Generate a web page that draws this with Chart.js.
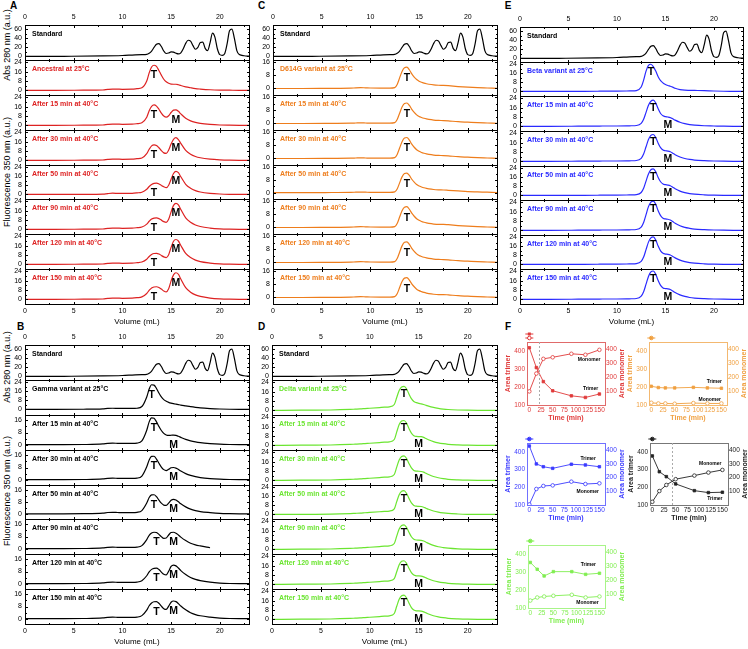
<!DOCTYPE html>
<html>
<head>
<meta charset="utf-8">
<title>SEC profiles of spike variants</title>
<script src="https://cdn.jsdelivr.net/npm/chart.js@4.4.1/dist/chart.umd.min.js"></script>
<style>
  body { margin: 0; background: #fff; font-family: "Liberation Sans", Arial, sans-serif; }
  #page { position: relative; width: 748px; height: 649px; overflow: hidden; }
  canvas { position: absolute; }
  .letter { position: absolute; font-weight: bold; font-size: 10px; transform: translate(-50%, -50%); }
  .ytitle { position: absolute; font-size: 9px; white-space: nowrap; transform: translate(-50%, -50%) rotate(-90deg); }
</style>
</head>
<body>
<div id="page">
  <div class="letter" style="left:13.5px;top:5px">A</div>
  <div class="letter" style="left:20.5px;top:326px">B</div>
  <div class="letter" style="left:261.5px;top:5px">C</div>
  <div class="letter" style="left:261.5px;top:326px">D</div>
  <div class="letter" style="left:508px;top:5px">E</div>
  <div class="letter" style="left:508px;top:326px">F</div>
  <div class="ytitle" style="left:7px;top:45px">Abs 280 nm (a.u.)</div>
  <div class="ytitle" style="left:7px;top:172px">Fluorescence 350 nm (a.u.)</div>
  <div class="ytitle" style="left:7px;top:367px">Abs 280 nm (a.u.)</div>
  <div class="ytitle" style="left:7px;top:491px">Fluorescence 350 nm (a.u.)</div>
</div>
<script>
// elution volume (mL) sampled for the fluorescence traces
const volume = [0, 3, 6, 8, 8.5, 9, 9.5, 10, 11, 11.5, 12, 12.5, 12.75, 13, 13.25, 13.5, 13.75, 14, 14.25, 14.5, 14.75, 15, 15.25, 15.5, 15.75, 16, 16.5, 17, 17.5, 18, 19, 20, 21, 22, 23];

// molecular weight standard (Abs 280)
const standardVolume = [0, 4, 8, 10, 11, 12, 12.5, 12.75, 13, 13.25, 13.5, 13.75, 14, 14.25, 14.5, 14.75, 15, 15.25, 15.5, 15.75, 16, 16.25, 16.5, 16.75, 17, 17.25, 17.5, 17.75, 18, 18.25, 18.5, 18.75, 19, 19.25, 19.5, 19.75, 20, 20.25, 20.5, 20.75, 21, 21.25, 21.5, 21.75, 22, 22.5, 23];
const standardAbs = [0, 0.3, 1, 2, 3, 4, 4.5, 7, 12, 20, 27, 28.5, 22, 12, 6.5, 7.5, 10, 9.5, 7, 5.5, 8, 17, 29, 36, 34, 24, 16, 20, 31, 32, 18, 13, 30, 52, 43, 17, 4, 2.5, 6, 28, 57, 61, 40, 13, 4, 1.5, 0.5];

const heatLabels = ['After 15 min at 40°C', 'After 30 min at 40°C', 'After 50 min at 40°C', 'After 90 min at 40°C', 'After 120 min at 40°C', 'After 150 min at 40°C'];

const ancestralTraces = [
  [0, 0, 0.1, 0.3, 0.8, 1.1, 1, 0.9, 1, 1.4, 2.2, 8, 15, 20, 21.5, 20.5, 17, 13, 9.5, 7.3, 6, 5.3, 5.2, 5.2, 4.8, 4.1, 3, 2.2, 1.5, 1.1, 0.5, 0.2, 0.1, 0, 0],
  [0, 0, 0.1, 0.3, 0.8, 1.1, 1, 0.9, 1, 1.4, 2.2, 7, 12.5, 16.3, 17.5, 16.5, 13.8, 10.5, 8, 7, 8.2, 11, 13, 13.3, 12, 9.8, 6, 3.8, 2.5, 1.7, 0.8, 0.3, 0.1, 0, 0],
  [0, 0, 0.1, 0.3, 0.8, 1.1, 1, 0.9, 1, 1.4, 2, 5.8, 9.5, 12.4, 13.3, 12.7, 10.8, 8.3, 6.4, 6, 8.8, 14, 18, 19.4, 17.8, 14.5, 8.5, 5.2, 3.3, 2.2, 1, 0.4, 0.1, 0, 0],
  [0, 0, 0.1, 0.3, 0.8, 1.1, 1, 0.9, 1, 1.4, 2, 4.6, 7, 8.9, 9.8, 10, 9.3, 8, 6.8, 6, 8.2, 13.5, 18.5, 20.4, 19.2, 15.6, 9, 5.5, 3.4, 2.2, 1, 0.4, 0.1, 0, 0],
  [0, 0, 0.1, 0.3, 0.8, 1.1, 1, 0.9, 1, 1.4, 2, 4.5, 6.9, 8.8, 9.6, 9.8, 9.2, 7.9, 6.6, 6, 8.6, 15, 20.5, 22.3, 21, 17, 9.8, 6, 3.7, 2.4, 1.1, 0.4, 0.1, 0, 0],
  [0, 0, 0.1, 0.3, 0.8, 1.1, 1, 0.9, 1, 1.4, 2, 4.4, 6.7, 8.5, 9.3, 9.4, 8.9, 7.6, 6.4, 5.8, 8.3, 14.5, 19.8, 21.3, 20, 16.2, 9.4, 5.8, 3.6, 2.3, 1.1, 0.4, 0.1, 0, 0],
  [0, 0, 0.1, 0.3, 0.8, 1.1, 1, 0.9, 1, 1.4, 2.1, 5, 7.7, 9.8, 10.6, 10.8, 10.2, 8.8, 7.2, 6.4, 9, 15.8, 21, 22.8, 21.5, 17.4, 10, 6.1, 3.8, 2.5, 1.1, 0.4, 0.1, 0, 0]
];

const gammaTraces = [
  [0, 0, 0.1, 0.5, 0.9, 1, 0.9, 0.8, 0.8, 1, 2.5, 11, 18, 21.8, 21.5, 18.5, 14.5, 11, 8.6, 7.2, 6.2, 5.5, 5, 4.6, 4.2, 3.8, 3.1, 2.4, 1.8, 1.3, 0.7, 0.3, 0.1, 0, 0],
  [0, 0, 0.1, 0.5, 0.9, 1, 0.9, 0.8, 0.8, 1, 2.5, 9.5, 15, 17.6, 17.3, 15, 12, 9.3, 7.4, 6.4, 6.1, 6.2, 6.3, 6.1, 5.5, 4.8, 3.5, 2.5, 1.8, 1.3, 0.7, 0.3, 0.1, 0, 0],
  [0, 0, 0.1, 0.5, 0.9, 1, 0.9, 0.8, 0.8, 1, 2.4, 8.5, 13, 15.3, 15.4, 13.5, 10.8, 8.3, 6.6, 6, 6.8, 7.8, 8, 7.6, 6.7, 5.7, 4, 2.8, 2, 1.4, 0.7, 0.3, 0.1, 0, 0],
  [0, 0, 0.1, 0.5, 0.9, 1, 0.9, 0.8, 0.8, 1, 2.2, 7.3, 11, 12.8, 12.9, 11.6, 9.3, 7.2, 5.9, 5.7, 7.2, 9.2, 9.8, 9.3, 8.1, 6.8, 4.7, 3.2, 2.2, 1.5, 0.8, 0.3, 0.1, 0, 0],
  [0, 0, 0.1, 0.5, 0.9, 1, 0.9, 0.8, 0.8, 1, 2, 6, 8.8, 10.3, 10.8, 10.6, 9.4, 7.9, 6.8, 7, 9, 10.6, 10.8, 10.2, 9, 7.6, 5.3, 3.6, 2.5, 1.8, 0.6, null, null, null, null],
  [0, 0, 0.1, 0.5, 0.9, 1, 0.9, 0.8, 0.8, 1, 2, 5.2, 7.8, 9.4, 10.1, 10.2, 9.3, 7.6, 6.2, 5.8, 8.2, 11.3, 12.2, 11.7, 10.3, 8.6, 6, 4, 2.8, 2, 1, 0.4, 0.1, 0, 0],
  [0, 0, 0.1, 0.5, 0.9, 1, 0.9, 0.8, 0.8, 1, 2, 5.6, 8.5, 10.3, 11.1, 11.2, 10.1, 8.2, 6.6, 6.1, 8.2, 10.8, 11.6, 11.2, 9.9, 8.3, 5.8, 3.9, 2.7, 1.9, 1, 0.4, 0.1, 0, 0]
];

const d614gTraces = [
  [0, 0, 0.1, 0.2, 0.4, 0.5, 0.4, 0.3, 0.2, 0.2, 0.2, 0.5, 2.5, 6.5, 10.5, 12.8, 13.1, 11.5, 9, 7, 5.5, 4.5, 3.8, 3.3, 2.9, 2.6, 2.2, 2, 1.9, 1.7, 1.2, 0.8, 0.5, 0.3, 0.1],
  [0, 0, 0.1, 0.2, 0.3, 0.4, 0.3, 0.2, 0.2, 0.2, 0.2, 0.5, 2.4, 6.3, 10.1, 12.3, 12.6, 11.1, 8.7, 6.8, 5.3, 4.3, 3.7, 3.2, 2.8, 2.5, 2.1, 1.9, 1.8, 1.6, 1.1, 0.8, 0.5, 0.3, 0.1],
  [0, 0, 0.1, 0.2, 0.3, 0.4, 0.3, 0.2, 0.2, 0.2, 0.2, 0.5, 2.5, 6.4, 10.3, 12.6, 12.9, 11.3, 8.8, 6.9, 5.4, 4.4, 3.7, 3.2, 2.8, 2.5, 2.1, 1.9, 1.8, 1.6, 1.1, 0.8, 0.5, 0.3, 0.1],
  [0, 0, 0.1, 0.2, 0.3, 0.4, 0.3, 0.2, 0.2, 0.2, 0.2, 0.5, 2.3, 6.2, 10, 12.1, 12.4, 10.9, 8.5, 6.7, 5.2, 4.2, 3.6, 3.1, 2.7, 2.4, 2, 1.8, 1.7, 1.5, 1.1, 0.7, 0.5, 0.3, 0.1],
  [0, 0, 0.1, 0.2, 0.4, 0.5, 0.4, 0.3, 0.2, 0.2, 0.2, 0.5, 2.4, 6.4, 10.3, 12.5, 12.8, 11.2, 8.8, 6.9, 5.4, 4.4, 3.7, 3.2, 2.8, 2.5, 2.1, 1.9, 1.9, 1.7, 1.2, 0.8, 0.5, 0.3, 0.1],
  [0, 0, 0.1, 0.2, 0.4, 0.5, 0.4, 0.3, 0.2, 0.2, 0.2, 0.5, 2.4, 6.3, 10.2, 12.4, 12.7, 11.1, 8.7, 6.8, 5.3, 4.3, 3.7, 3.2, 2.8, 2.5, 2.1, 1.9, 1.8, 1.6, 1.1, 0.8, 0.5, 0.3, 0.1],
  [0, 0, 0.1, 0.2, 0.4, 0.5, 0.4, 0.3, 0.2, 0.2, 0.2, 0.5, 2.3, 6.1, 9.8, 11.9, 12.2, 10.7, 8.4, 6.6, 5.1, 4.2, 3.6, 3.1, 2.7, 2.4, 2, 1.8, 1.8, 1.6, 1.1, 0.8, 0.5, 0.3, 0.1]
];

const deltaTraces = [
  [0, 0.1, 0.3, 0.8, 1, 1.2, 1.5, 1.8, 2.4, 2.7, 3, 5, 11, 17, 20, 20.5, 18.5, 14, 10, 7.6, 6.6, 6, 5.6, 5, 4.3, 3.6, 2.5, 1.7, 1.1, 0.7, 0.3, 0.1, 0, 0, 0],
  [0, 0.1, 0.3, 0.8, 1, 1.2, 1.5, 1.8, 2.4, 2.7, 3, 5, 11.5, 17.8, 20.8, 21.3, 19, 14.5, 10.5, 8.3, 7.6, 7.5, 7.4, 6.8, 5.8, 4.8, 3.2, 2.1, 1.4, 0.9, 0.4, 0.1, 0, 0, 0],
  [0, 0.1, 0.3, 0.8, 1, 1.2, 1.5, 1.8, 2.4, 2.7, 3, 5, 11.3, 17.5, 20.5, 21, 18.8, 14.5, 10.6, 8.5, 7.9, 7.8, 7.6, 7, 6, 5, 3.3, 2.2, 1.4, 0.9, 0.4, 0.1, 0, 0, 0],
  [0, 0.1, 0.3, 0.8, 1, 1.2, 1.5, 1.8, 2.4, 2.7, 3, 5, 11.3, 17.5, 20.5, 21, 18.6, 14.2, 10.2, 8, 7.3, 7.2, 7, 6.4, 5.5, 4.6, 3.1, 2.1, 1.4, 0.9, 0.4, 0.1, 0, 0, 0],
  [0, 0.1, 0.3, 0.8, 1, 1.2, 1.5, 1.8, 2.4, 2.7, 3, 5, 11.3, 17.5, 20.5, 21, 18.8, 14.6, 10.8, 8.7, 8, 7.9, 7.7, 7.1, 6.1, 5.1, 3.4, 2.2, 1.5, 1, 0.4, 0.1, 0, 0, 0],
  [0, 0.1, 0.3, 0.8, 1, 1.2, 1.5, 1.8, 2.4, 2.7, 3, 4.9, 10.8, 16.8, 19.7, 20.2, 18, 13.8, 10, 7.9, 7.3, 7.2, 7, 6.4, 5.5, 4.6, 3.1, 2.1, 1.4, 0.9, 0.4, 0.1, 0, 0, 0],
  [0, 0.1, 0.3, 0.8, 1, 1.2, 1.5, 1.8, 2.4, 2.7, 3, 5, 11.2, 17.3, 20.3, 20.8, 18.4, 14, 10.1, 8, 7.3, 7.2, 7, 6.4, 5.5, 4.6, 3.1, 2.1, 1.4, 0.9, 0.4, 0.1, 0, 0, 0]
];

const betaTraces = [
  [0, 0, 0.1, 0.2, 0.3, 0.3, 0.3, 0.3, 0.4, 0.5, 0.8, 4, 10, 18, 23, 24, 22, 18, 13, 9.5, 7.5, 6.2, 5.3, 4.6, 3.8, 2.8, 1.6, 1.1, 1, 0.9, 0.7, 0.4, 0.2, 0.1, 0],
  [0, 0, 0.1, 0.2, 0.3, 0.3, 0.3, 0.3, 0.4, 0.5, 0.7, 2.5, 6, 12, 18, 21.5, 22.4, 20, 15, 11, 9, 8.3, 8, 7.5, 6.5, 5.3, 3.5, 2.3, 1.5, 1, 0.5, 0.3, 0.1, 0, 0],
  [0, 0, 0.1, 0.2, 0.3, 0.3, 0.3, 0.3, 0.4, 0.5, 0.7, 2.6, 6.2, 12.5, 18.7, 22.3, 23, 20.5, 15.5, 11.7, 9.7, 9.1, 8.8, 8.2, 7, 5.7, 3.7, 2.4, 1.6, 1.1, 0.6, 0.3, 0.1, 0, 0],
  [0, 0, 0.1, 0.2, 0.3, 0.3, 0.3, 0.3, 0.4, 0.5, 0.7, 2.6, 6.3, 12.7, 19, 22.7, 23.4, 20.9, 15.9, 12.1, 10.1, 9.5, 9.2, 8.6, 7.3, 5.9, 3.8, 2.5, 1.6, 1.1, 0.6, 0.3, 0.1, 0, 0],
  [0, 0, 0.1, 0.2, 0.3, 0.3, 0.3, 0.3, 0.4, 0.5, 0.7, 2.8, 6.7, 13.5, 20.3, 24.2, 25, 22.3, 16.8, 12.6, 10.4, 9.8, 9.5, 8.8, 7.5, 6, 3.9, 2.5, 1.7, 1.1, 0.6, 0.3, 0.1, 0, 0],
  [0, 0, 0.1, 0.2, 0.3, 0.3, 0.3, 0.3, 0.4, 0.5, 0.7, 2.7, 6.5, 13.1, 19.7, 23.5, 24.3, 21.6, 16.2, 12, 9.8, 9.2, 8.9, 8.3, 7.1, 5.8, 3.8, 2.5, 1.6, 1.1, 0.6, 0.3, 0.1, 0, 0],
  [0, 0, 0.1, 0.2, 0.3, 0.3, 0.3, 0.3, 0.4, 0.5, 0.7, 2.7, 6.5, 13, 19.6, 23.5, 24.3, 21.5, 16.1, 11.9, 9.8, 9.2, 9, 8.4, 7.2, 5.8, 3.8, 2.5, 1.6, 1.1, 0.6, 0.3, 0.1, 0, 0]
];

// panel F: peak areas versus incubation time
const timeMin = [0, 15, 30, 50, 90, 120, 150];
const ancestralTrimer = [418, 308, 230, 179, 151, 142, 161];
const ancestralMonomer = [98, 225, 330, 341, 366, 359, 394];
const d614gTrimer = [204, 197, 195, 195, 198, 195, 193];
const d614gMonomer = [17, 12, 12, 10, 15, 12, 12];
const betaTrimer = [433, 332, 316, 307, 330, 326, 316];
const betaMonomer = [5, 117, 139, 143, 170, 153, 158];
const gammaTrimer = [377, 288, 260, 219, 181, 170, 172];
const gammaMonomer = [24, 102, 146, 188, 214, 236, 255];
const deltaTrimer = [353, 315, 278, 302, 302, 287, 293];
const deltaMonomer = [54, 76, 83, 88, 95, 76, 83];

Chart.defaults.font.family = '"Liberation Sans", Arial, sans-serif';
Chart.defaults.color = '#000';

const page = document.getElementById('page');

function addCanvas(left, top, w, h) {
  const c = document.createElement('canvas');
  c.width = w;
  c.height = h;
  c.style.left = left + 'px';
  c.style.top = top + 'px';
  c.style.width = w + 'px';
  c.style.height = h + 'px';
  page.appendChild(c);
  return c;
}

// box around each plot plus small inward ticks
const framePlugin = {
  id: 'frame',
  afterDatasetsDraw(chart, args, o) {
    const {ctx, chartArea: a, scales} = chart;
    ctx.save();
    ctx.strokeStyle = o.color || '#000';
    ctx.lineWidth = 1;
    ctx.strokeRect(a.left + 0.5, a.top + 0.5, a.right - a.left, a.bottom - a.top);
    if (o.innerTicks) {
      ctx.beginPath();
      const xs = scales.x;
      for (let v = 0; v <= xs.max; v += 2.5) {
        const px = Math.round(xs.getPixelForValue(v)) + 0.5;
        const len = v % 5 === 0 ? 3 : 2;
        ctx.moveTo(px, a.top); ctx.lineTo(px, a.top + len);
        ctx.moveTo(px, a.bottom + 1); ctx.lineTo(px, a.bottom + 1 - len);
      }
      const ys = scales.y;
      const step = o.yStep;
      for (let v = 0; v <= ys.max; v += step / 2) {
        const py = Math.round(ys.getPixelForValue(v)) + 0.5;
        const len = (v / step) % 1 === 0 ? 3 : 2;
        ctx.moveTo(a.left, py); ctx.lineTo(a.left + len, py);
        ctx.moveTo(a.right + 1, py); ctx.lineTo(a.right + 1 - len, py);
      }
      ctx.stroke();
    }
    ctx.restore();
  }
};

// sample name and T / M peak labels
const notePlugin = {
  id: 'notes',
  afterDatasetsDraw(chart, args, o) {
    const {ctx, chartArea: a} = chart;
    ctx.save();
    ctx.textBaseline = 'middle';
    if (o.name) {
      ctx.font = 'bold 7px "Liberation Sans", Arial, sans-serif';
      ctx.fillStyle = o.nameColor;
      ctx.textAlign = 'left';
      ctx.fillText(o.name, a.left + 7, a.top + 9);
    }
    const pts = chart.getDatasetMeta(0).data;
    ctx.font = 'bold 10.5px "Liberation Sans", Arial, sans-serif';
    ctx.fillStyle = '#000';
    ctx.textAlign = 'center';
    (o.marks || []).forEach(m => {
      const p = pts[m.idx];
      if (p) ctx.fillText(m.text, p.x, p.y + m.dy);
    });
    ctx.restore();
  }
};

function points(xs, ys) {
  return xs.map((x, i) => ({x: x, y: ys[i]}));
}

function subplot(p, k, data, name, nameColor, color, range, step, marks) {
  const n = 8;
  const h = (p.bottom - p.top) / n;
  const y0 = Math.round(p.top + k * h);
  const y1 = Math.round(p.top + (k + 1) * h);
  const first = k === 0;
  const last = k === n - 1;
  const padT = 3, padB = 3;
  const axT = first ? 13 : 0;
  const axB = last ? 23 : 0;
  const w = (p.right - p.left) + 22 + 4;
  const hh = (y1 - y0) + padT + padB + axT + axB;
  const canvas = addCanvas(p.left - 22, y0 - padT - axT, w, hh);

  new Chart(canvas, {
    type: 'line',
    data: {
      datasets: [{
        data: data,
        borderColor: color,
        borderWidth: 1.2,
        pointRadius: 0,
        fill: false,
        cubicInterpolationMode: 'monotone'
      }]
    },
    options: {
      responsive: false,
      animation: false,
      events: [],
      layout: {padding: {top: padT, bottom: padB, left: 0, right: 4}, autoPadding: false},
      plugins: {
        legend: {display: false},
        tooltip: {enabled: false},
        frame: {innerTicks: true, yStep: step},
        notes: {name: name, nameColor: nameColor, marks: marks}
      },
      scales: {
        x: {
          type: 'linear', min: 0, max: 23,
          position: first ? 'top' : 'bottom',
          display: first || last,
          grid: {display: false, drawTicks: false},
          border: {display: false},
          ticks: {stepSize: 5, includeBounds: false, font: {size: 7}, padding: first ? 4 : 3, maxRotation: 0, autoSkip: false},
          title: {display: last, text: 'Volume (mL)', font: {size: 8}, padding: 0},
          afterFit: s => { s.height = axT + axB; s.paddingLeft = 0; s.paddingRight = 0; }
        },
        y: {
          type: 'linear', min: range[0], max: range[1],
          grid: {display: false, drawTicks: false},
          border: {display: false},
          ticks: {stepSize: step, includeBounds: false, font: {size: 7}, padding: 3, autoSkip: false},
          afterFit: s => { s.width = 22; s.paddingTop = 0; s.paddingBottom = 0; }
        }
      }
    },
    plugins: [framePlugin, notePlugin]
  });
}

const panels = [
  {left: 25, right: 249, top: 25, bottom: 304, color: '#dd2222', first: 'Ancestral at 25°C', traces: ancestralTraces,
   ranges: [[-4, 26]], tIdx: [14, 14, 14, 14, 14, 14, 14], mIdx: 23, dy: 10, mFrom: 1},
  {left: 25, right: 249, top: 345, bottom: 624, color: '#000000', first: 'Gamma variant at 25°C', traces: gammaTraces,
   ranges: [[-5, 26], [-3.5, 19.5]], tIdx: [13, 14, 14, 14, 15, 15, 15], mIdx: 22, dy: 10, mFrom: 1},
  {left: 273, right: 497, top: 25, bottom: 304, color: '#ee7d1c', first: 'D614G variant at 25°C', traces: d614gTraces,
   ranges: [[-4, 17.5]], tIdx: [16, 16, 16, 16, 16, 16, 16], mIdx: -1, dy: 11, mFrom: 99},
  {left: 272, right: 497, top: 345, bottom: 624, color: '#6be530', first: 'Delta variant at 25°C', traces: deltaTraces,
   ranges: [[-4, 26]], tIdx: [15, 15, 15, 15, 15, 15, 15], mIdx: 21, dy: 8, mFrom: 1},
  {left: 520, right: 743, top: 27, bottom: 304, color: '#2a2aff', first: 'Beta variant at 25°C', traces: betaTraces,
   ranges: [[-4, 26]], tIdx: [15, 16, 16, 16, 16, 16, 16], mIdx: 22, dy: 8, mFrom: 1}
];

panels.forEach(p => {
  subplot(p, 0, points(standardVolume, standardAbs), 'Standard', '#000', '#000', [-8, 70], 20, []);
  p.traces.forEach((tr, i) => {
    const range = p.ranges[Math.min(i, p.ranges.length - 1)];
    const marks = [{text: 'T', idx: p.tIdx[i], dy: p.dy}];
    if (i >= p.mFrom) marks.push({text: 'M', idx: p.mIdx, dy: p.dy});
    const name = i === 0 ? p.first : heatLabels[i - 1];
    subplot(p, i + 1, points(volume, tr), name, p.color, p.color, range, 8, marks);
  });
});

// ---- panel F ----
const areaPlugin = {
  id: 'area',
  afterDatasetsDraw(chart, args, o) {
    const {ctx, chartArea: a, scales} = chart;
    ctx.save();
    ctx.strokeStyle = o.frame;
    ctx.lineWidth = 1;
    ctx.strokeRect(a.left + 0.5, a.top + 0.5, a.right - a.left, a.bottom - a.top);
    if (o.cross != null) {
      const px = Math.round(scales.x.getPixelForValue(o.cross)) + 0.5;
      ctx.strokeStyle = '#aaaaaa';
      ctx.setLineDash([2, 2]);
      ctx.beginPath(); ctx.moveTo(px, a.top); ctx.lineTo(px, a.bottom); ctx.stroke();
      ctx.setLineDash([]);
    }
    // symbol key above the frame
    const mx = scales.x.getPixelForValue(0);
    const ySq = o.split ? a.top - 8 : a.top - 4;
    const yCi = a.top - 4;
    ctx.strokeStyle = o.color; ctx.fillStyle = o.color;
    ctx.beginPath(); ctx.moveTo(mx - 4, ySq); ctx.lineTo(mx + 4, ySq); ctx.stroke();
    if (o.split) { ctx.beginPath(); ctx.moveTo(mx - 4, yCi); ctx.lineTo(mx + 4, yCi); ctx.stroke(); }
    ctx.fillStyle = '#fff';
    ctx.beginPath(); ctx.arc(mx, yCi, 1.8, 0, Math.PI * 2); ctx.fill(); ctx.stroke();
    ctx.fillStyle = o.color;
    ctx.fillRect(mx - 1.5, ySq - 1.5, 3, 3);
    // right-hand axis title, read bottom to top
    ctx.font = 'bold 7px "Liberation Sans", Arial, sans-serif';
    ctx.textAlign = 'center';
    ctx.textBaseline = 'middle';
    ctx.translate(a.right + 17, (a.top + a.bottom) / 2);
    ctx.rotate(-Math.PI / 2);
    ctx.fillText('Area monomer', 0, 0);
    ctx.setTransform(1, 0, 0, 1, 0, 0);
    // series names
    ctx.fillStyle = '#000';
    ctx.font = 'bold 5px "Liberation Sans", Arial, sans-serif';
    o.notes.forEach(n => {
      ctx.fillText(n.text, scales.x.getPixelForValue(n.t), scales.y.getPixelForValue(n.v));
    });
    ctx.restore();
  }
};

function areaChart(f) {
  const padT = 10, padB = 2, padR = 2;
  const leftW = 23, rightW = 22, bottomH = 17;
  const w = (f.right - f.left) + leftW + rightW + padR;
  const hh = (f.bottom - f.top) + padT + bottomH + padB;
  const canvas = addCanvas(f.left - leftW, f.top - padT, w, hh);
  const c = f.color;
  const tickFont = {size: 6.5};
  new Chart(canvas, {
    type: 'line',
    data: {
      datasets: [
        {data: points(timeMin, f.trimer), yAxisID: 'y', borderColor: c, backgroundColor: c, borderWidth: 0.9,
         pointStyle: 'rect', pointRadius: 1.8, pointBorderWidth: 0.8, tension: 0},
        {data: points(timeMin, f.monomer), yAxisID: 'y1', borderColor: c, backgroundColor: '#fff', borderWidth: 0.9,
         pointStyle: 'circle', pointRadius: 1.8, pointBorderWidth: 0.8, tension: 0}
      ]
    },
    options: {
      responsive: false,
      animation: false,
      events: [],
      layout: {padding: {top: padT, bottom: padB, left: 0, right: padR}, autoPadding: false},
      plugins: {
        legend: {display: false},
        tooltip: {enabled: false},
        area: {frame: f.frame, color: c, cross: f.cross, notes: f.notes, split: f.split}
      },
      scales: {
        x: {
          type: 'linear', min: -5, max: 162,
          grid: {display: false, drawTicks: false}, border: {display: false},
          ticks: {stepSize: 25, includeBounds: false, font: tickFont, color: c, padding: 1, maxRotation: 0, autoSkip: false},
          title: {display: true, text: 'Time (min)', color: c, font: {size: 7, weight: 'bold'}, padding: 0},
          afterFit: s => { s.height = bottomH; s.paddingLeft = 0; s.paddingRight = 0; }
        },
        y: {
          type: 'linear', position: 'left', min: 100, max: 450,
          grid: {display: false, drawTicks: false}, border: {display: false},
          ticks: {stepSize: 100, includeBounds: false, font: tickFont, color: c, padding: 2, autoSkip: false},
          title: {display: true, text: 'Area trimer', color: c, font: {size: 7, weight: 'bold'}, padding: 0},
          afterFit: s => { s.width = leftW; s.paddingTop = 0; s.paddingBottom = 0; }
        },
        y1: {
          type: 'linear', position: 'right', min: 1, max: 450,
          grid: {display: false, drawTicks: false}, border: {display: false},
          ticks: {stepSize: 100, includeBounds: false, font: tickFont, color: c, padding: 1, autoSkip: false},
          title: {display: false},
          afterFit: s => { s.width = rightW; s.paddingTop = 0; s.paddingBottom = 0; }
        }
      }
    },
    plugins: [areaPlugin]
  });
}

const areaPanels = [
  {left: 527, top: 342, right: 605, bottom: 405, color: '#e03a3a', frame: '#e06a6a', trimer: ancestralTrimer, monomer: ancestralMonomer, cross: 20, split: true,
   notes: [{text: 'Monomer', t: 128, v: 351}, {text: 'Trimer', t: 131, v: 193}]},
  {left: 649, top: 342, right: 727, bottom: 405, color: '#f0a040', frame: '#f3b870', trimer: d614gTrimer, monomer: d614gMonomer, cross: null, split: false,
   notes: [{text: 'Trimer', t: 135, v: 232}, {text: 'Monomer', t: 125, v: 131}]},
  {left: 527, top: 443, right: 605, bottom: 505, color: '#3a3aff', frame: '#7070ff', trimer: betaTrimer, monomer: betaMonomer, cross: null, split: false,
   notes: [{text: 'Trimer', t: 126, v: 364}, {text: 'Monomer', t: 125, v: 175}]},
  {left: 650, top: 443, right: 728, bottom: 505, color: '#222222', frame: '#777777', trimer: gammaTrimer, monomer: gammaMonomer, cross: 43, split: false,
   notes: [{text: 'Monomer', t: 124, v: 332}, {text: 'Trimer', t: 134, v: 134}]},
  {left: 528, top: 545, right: 605, bottom: 608, color: '#80ee50', frame: '#a8f488', trimer: deltaTrimer, monomer: deltaMonomer, cross: null, split: false,
   notes: [{text: 'Trimer', t: 126, v: 339}, {text: 'Monomer', t: 124, v: 128}]}
];

areaPanels.forEach(areaChart);
</script>
</body>
</html>
